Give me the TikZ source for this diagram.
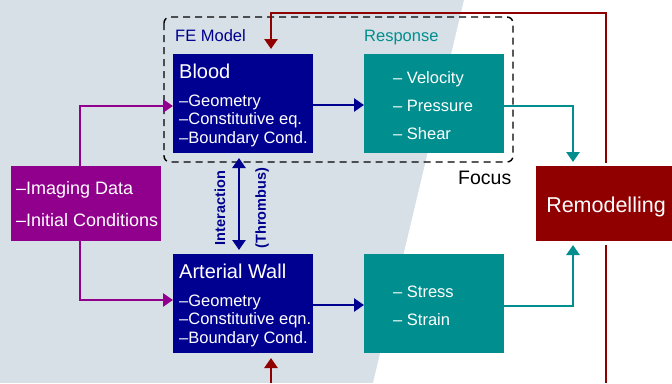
\documentclass[tikz,border=0pt]{standalone}
\usepackage{fontspec}
\setmainfont{Liberation Sans}
\usetikzlibrary{arrows.meta}
\definecolor{bgpanel}{RGB}{214,224,230}
\definecolor{fenavy}{RGB}{0,0,144}
\definecolor{resteal}{RGB}{0,142,142}
\definecolor{inpurple}{RGB}{144,0,140}
\definecolor{remred}{RGB}{144,0,0}
\tikzset{
  box/.style={draw=none, fill=#1, minimum width=140pt, minimum height=99pt, inner sep=0pt, outer sep=0pt},
  sidebox/.style={draw=none, fill=#1, minimum width=150pt, minimum height=75pt, inner sep=0pt, outer sep=0pt},
  title/.style={anchor=base west, inner sep=0pt, text=white, font=\fontsize{20}{24}\selectfont},
  item/.style={anchor=base west, inner sep=0pt, text=white, font=\fontsize{16.5}{19}\selectfont},
  label/.style={anchor=base west, inner sep=0pt, font=\fontsize{16.5}{19}\selectfont},
  flow/.style={line width=2.5pt, draw=#1, -{Triangle[length=10pt,width=13pt]}},
  rotlabel/.style={rotate=90, inner sep=0pt, text=fenavy, font=\fontsize{14.5}{17}\selectfont\bfseries}
}
\begin{document}
\begin{tikzpicture}[x=1pt,y=-1pt]
\useasboundingbox (0,0) rectangle (672,383);
% background panels
\fill[bgpanel] (0,0) rectangle (672,383);
\fill[white] (464,0) -- (672,0) -- (672,383) -- (373,383) -- cycle;

% focus frame
\draw[black, line width=1.4pt, dash pattern=on 7pt off 5pt, rounded corners=6pt] (164,17) rectangle (513,162);
\node[label, text=fenavy] (femodel) at (175,41) {FE Model};
\node[label, text=resteal] (resp) at (364,41) {Response};
\node[anchor=base west, inner sep=0pt, font=\fontsize{19.5}{23}\selectfont] (focus) at (458,184) {Focus};

% boxes
\node[box=fenavy] (blood) at (243,103.5) {};
\node[box=resteal] (response) at (434,103.5) {};
\node[box=fenavy] (wall) at (243,303.5) {};
\node[box=resteal] (stress) at (434,303.5) {};
\node[sidebox=inpurple] (imaging) at (86,203.5) {};
\node[sidebox=remred, minimum width=140pt] (remod) at (606,203.5) {};

% box texts
\node[title] (bloodT) at (179,78) {Blood};
\node[item] (b1) at (179,106) {–Geometry};
\node[item] (b2) at (179,124.5) {–Constitutive eq.};
\node[item] (b3) at (179,143) {–Boundary Cond.};

\node[title] (wallT) at (179,278) {Arterial Wall};
\node[item] (w1) at (179,306) {–Geometry};
\node[item] (w2) at (179,324.5) {–Constitutive eqn.};
\node[item] (w3) at (179,343) {–Boundary Cond.};

\node[item] (r1) at (393,83) {– Velocity};
\node[item] (r2) at (393,111) {– Pressure};
\node[item] (r3) at (393,139) {– Shear};

\node[item] (s1) at (393,297) {– Stress};
\node[item] (s2) at (393,325) {– Strain};

\node[anchor=base west, inner sep=0pt, text=white, font=\fontsize{18}{22}\selectfont] (i1) at (16,194) {–Imaging Data};
\node[anchor=base west, inner sep=0pt, text=white, font=\fontsize{18}{22}\selectfont] (i2) at (16,226) {–Initial Conditions};

\node[anchor=base, inner sep=0pt, text=white, font=\fontsize{21.5}{26}\selectfont] (remT) at (606,212) {Remodelling};

% interaction labels
\node[rotlabel] (inter) at (220,208) {Interaction};
\node[rotlabel] (thromb) at (262,208) {(Thrombus)};

% free ends below the frame
\coordinate (loopout) at (606,383);
\coordinate (loopin) at (271,383);

% inputs
\draw[flow=inpurple] (imaging.north -| 80,0) |- (blood.west |- 0,106);
\draw[flow=inpurple] (imaging.south -| 80,0) |- (wall.west |- 0,300);

% model to response
\draw[flow=fenavy] (blood.east |- 0,105) -- (response.west |- 0,105);
\draw[flow=fenavy] (wall.east |- 0,305) -- (stress.west |- 0,305);

% interaction
\draw[line width=2.5pt, fenavy, {Triangle[length=10pt,width=13pt]}-{Triangle[length=10pt,width=13pt]}, shorten <=5pt, shorten >=4pt]
  (blood.south -| 239,0) -- (wall.north -| 239,0);

% response to remodelling
\draw[flow=resteal, shorten >=4pt] (response.east |- 0,106) -| (remod.north -| 573,0);
\draw[flow=resteal, shorten >=4pt] (stress.east |- 0,306) -| (remod.south -| 573,0);

% remodelling feedback
\draw[flow=remred, shorten <=3pt, shorten >=5pt] (remod.north) -- (606,13) -| (blood.north -| 271,0);
\draw[line width=2.5pt, remred, shorten <=4pt] (remod.south) -- (loopout);
\draw[flow=remred, shorten >=5pt] (loopin) -- (wall.south -| 271,0);
\end{tikzpicture}
\end{document}
